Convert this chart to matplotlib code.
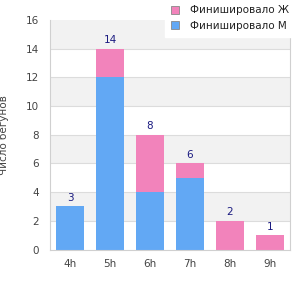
import matplotlib
matplotlib.use("Agg")
import matplotlib.pyplot as plt
import numpy as np
from matplotlib.patches import Patch

categories = ["4h", "5h", "6h", "7h", "8h", "9h"]
male = [3, 12, 4, 5, 0, 0]
female = [0, 2, 4, 1, 2, 1]
series_names = ["Финишировало Ж", "Финишировало М"]
ylabel = "Число бегунов"

blue = "#62a8f4"
pink = "#f283bb"

fig = plt.figure(figsize=(3, 3), dpi=100)
ax = fig.add_axes([50/300, 1-249.5/300, 240/300, 229.5/300])

x = np.arange(len(categories))
totals = [m + f for m, f in zip(male, female)]

# alternating bands
for lo in range(0, 16, 4):
    ax.axhspan(lo + 2, lo + 4, color="#f2f2f2", zorder=0, lw=0)
for yv in range(2, 16, 2):
    ax.axhline(yv, color="#dcdcdc", lw=0.8, zorder=1)

ax.bar(x, male, width=0.72, color=blue, zorder=2)
ax.bar(x, female, width=0.72, bottom=male, color=pink, zorder=2)
for xi, t in zip(x, totals):
    ax.text(xi, t + 0.25, str(t), ha="center", va="bottom", fontsize=7.5, color="#1a1a80", zorder=3)

ax.set_xlim(-0.5, len(categories) - 0.5)
ax.set_ylim(0, 16)
ax.set_yticks(range(0, 17, 2))
ax.set_xticks(x)
ax.set_xticklabels(categories)
ax.tick_params(axis="both", length=0, labelsize=7.5, colors="#444444", pad=7)
ax.tick_params(axis="y", pad=8)
for s in ax.spines.values():
    s.set_color("#d0d0d0")
    s.set_linewidth(0.8)
ax.spines["top"].set_visible(False)
ax.set_ylabel(ylabel, fontsize=7.5, color="#444444", labelpad=12)

handles = [Patch(facecolor=pink, edgecolor="#888888", lw=0.6),
           Patch(facecolor=blue, edgecolor="#888888", lw=0.6)]
leg = fig.legend(handles, series_names, loc="upper right", bbox_to_anchor=(1.0, 1.02),
                 fontsize=7.5, frameon=True, fancybox=False, edgecolor="white",
                 handlelength=0.8, handleheight=0.8, handletextpad=1.0,
                 labelspacing=0.5, borderpad=0.6)
leg.get_frame().set_facecolor("white")
leg.get_frame().set_alpha(1)
for t in leg.get_texts():
    t.set_color("#222222")

fig.savefig("out.png", dpi=100)
